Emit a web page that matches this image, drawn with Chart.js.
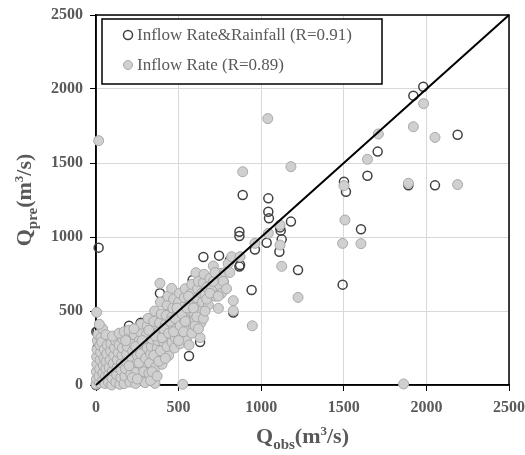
<!DOCTYPE html>
<html>
<head>
<meta charset="utf-8">
<script src="https://cdn.jsdelivr.net/npm/chart.js@4"></script>
<style>
  body { margin: 0; background: #fff; }
  canvas { display: block; }
</style>
</head>
<body>
<canvas id="chartA" width="525" height="455"></canvas>
<script>
// values, [Qobs, Qpre] in m3/s
var rainfallLabel = 'Inflow Rate&Rainfall (R=0.91)';
var inflowLabel = 'Inflow Rate (R=0.89)';
var axisTicks = [0, 500, 1000, 1500, 2000, 2500];
var diagonal = [[0, 0], [2500, 2500]];

var rainfallPts = [
  [0,0],[10,40],[20,100],[30,180],[50,60],[80,150],[100,40],[120,200],[150,120],[180,250],
  [200,80],[220,300],[250,180],[280,320],[300,100],[330,380],[360,260],[400,450],[420,300],
  [450,520],[480,380],[520,600],[550,450],[600,620],[640,660],
  [2,360],[10,252],[10,365],[16,928],[200,400],[270,420],[300,425],[387,620],[458,608],
  [563,196],[585,709],[630,290],[646,552],[650,865],[745,874],[771,698],[811,845],[831,490],
  [868,800],[872,811],
  [868,1007],[868,1036],[888,1284],[942,642],[962,915],[1033,961],[1043,1171],[1043,1261],
  [1047,1126],[1110,900],[1114,1065],[1118,1043],[1124,984],[1180,1104],[1223,777],[1493,678],
  [1501,1374],[1513,1306],[1604,1052],[1643,1414],[1705,1577],[1891,1350],[1921,1955],
  [1981,2015],[2052,1349],[2189,1691]
];

var inflowPts = [
  [0,5],[3,40],[2,90],[5,140],[4,190],[6,240],[8,300],[12,340],[4,491],[16,1651],[20,15],[18,60],
  [22,110],[25,170],[28,220],[24,270],[30,320],[35,290],[40,30],[42,80],[45,130],[48,180],[50,240],
  [55,10],[58,60],[60,110],[62,160],[65,210],[68,270],[40,380],[20,410],[60,340],
  [75,20],[78,70],[80,120],[85,170],[88,230],[90,280],[95,0],[98,45],[100,95],[105,145],[108,200],
  [112,250],[118,300],[120,20],[125,70],[128,120],[130,170],[135,220],[140,270],[145,5],[150,50],
  [152,100],[155,150],[158,200],[160,250],[162,310],[100,330],[140,350],[170,360],
  [170,10],[175,60],[178,110],[182,160],[185,210],[190,260],[195,320],[200,370],[205,20],[210,75],
  [212,130],[218,180],[222,230],[228,280],[232,340],[240,10],[245,90],[248,150],[252,200],[258,250],
  [262,300],[268,360],[272,410],[280,40],[285,120],[288,180],[292,230],[297,16],[300,290],[305,340],
  [310,400],[315,450],[180,300],[200,130],[220,50],[230,380],[240,260],[250,40],[260,150],[270,210],
  [280,300],[290,90],[300,180],[310,250],
  [320,80],[325,150],[330,210],[335,260],[340,310],[345,370],[350,430],[355,500],[357,11],[360,120],
  [365,190],[370,250],[375,300],[380,360],[385,420],[387,687],[390,560],[395,480],[400,140],[405,220],
  [410,290],[415,350],[420,410],[425,470],[430,540],[435,600],[440,200],[445,270],[450,330],[455,390],
  [458,653],[460,460],[465,520],[320,370],[330,30],[340,90],[350,200],[360,330],[370,60],[380,160],
  [390,230],[400,320],[410,380],[420,180],[430,260],[440,350],[450,430],[460,290],
  [470,580],[475,250],[480,320],[485,380],[490,440],[495,500],[500,560],[505,620],[510,280],[515,350],
  [520,410],[525,5],[525,470],[530,530],[535,590],[540,650],[548,300],[555,380],[560,440],[563,270],
  [565,500],[570,560],[575,620],[580,680],[590,400],[595,470],[599,444],[600,530],[605,759],[610,590],
  [615,650],[620,700],[630,320],[635,420],[640,500],[645,560],[650,691],[654,748],[470,360],[480,450],
  [490,520],[500,300],[510,400],[520,480],[530,360],[540,430],[550,520],[560,600],[580,350],[590,520],
  [600,400],[610,460],[620,380],[640,620],[650,450],
  [660,610],[670,660],[680,540],[690,720],[700,647],[710,804],[720,600],[730,700],[741,518],[747,676],
  [751,755],[760,620],[780,760],[800,820],[821,867],[831,570],[831,502],[872,867],[888,1441],[946,400],
  [660,500],[670,580],[690,620],[710,700],[720,760],[740,600],[770,700],[790,650],[810,760],
  [962,957],[1043,1025],[1040,1800],[1114,1080],[1114,946],[1124,802],[1180,1475],[1223,592],
  [1493,957],[1507,1115],[1501,1347],[1604,955],[1643,1525],[1709,1696],[1862,7],[1891,1363],
  [1921,1745],[1983,1901],[2052,1673],[2189,1354]
];

function toXY(list) {
  return list.map(function (p) { return { x: p[0], y: p[1] }; });
}

var grey = '#595959';
var tickFont = { family: 'Liberation Serif', size: 16, weight: 'bold' };

var openStyle = { fill: '#ffffff', stroke: '#404040', width: 1.5 };
var fillStyle = { fill: '#d0d0d0', stroke: '#a8a8a8', width: 1 };

// draws "Q" + subscript + "(m" + superscript 3 + "/s)"
function drawTitle(ctx, sub, cx, cy) {
  var parts = [['Q', 22, 0], [sub, 15, 6], ['(m', 22, 0], ['3', 13, -8], ['/s)', 22, 0]];
  var total = 0;
  parts.forEach(function (p) {
    ctx.font = 'bold ' + p[1] + 'px "Liberation Serif"';
    p.push(ctx.measureText(p[0]).width);
    total += p[3];
  });
  var x = cx - total / 2;
  ctx.fillStyle = grey;
  ctx.textBaseline = 'alphabetic';
  ctx.textAlign = 'left';
  parts.forEach(function (p) {
    ctx.font = 'bold ' + p[1] + 'px "Liberation Serif"';
    ctx.fillText(p[0], x, cy + p[2]);
    x += p[3];
  });
}

var extras = {
  id: 'extras',
  beforeDatasetsDraw: function (chart) {
    var ctx = chart.ctx, a = chart.chartArea;
    ctx.save();
    ctx.strokeStyle = '#000';
    ctx.lineWidth = 1.5;
    ctx.strokeRect(a.left, a.top, a.right - a.left, a.bottom - a.top);
    ctx.restore();
  },
  afterDraw: function (chart) {
    var ctx = chart.ctx, a = chart.chartArea;
    ctx.save();
    drawTitle(ctx, 'obs', (a.left + a.right) / 2, 443);
    ctx.translate(31, (a.top + a.bottom) / 2);
    ctx.rotate(-Math.PI / 2);
    drawTitle(ctx, 'pre', 0, 0);
    ctx.restore();

    // legend box
    ctx.save();
    ctx.fillStyle = '#fff';
    ctx.fillRect(102, 19, 280, 65);
    ctx.strokeStyle = '#000';
    ctx.lineWidth = 1.5;
    ctx.strokeRect(102, 19, 280, 65);
    var rows = [[rainfallLabel, openStyle, 35], [inflowLabel, fillStyle, 65]];
    ctx.font = '17px "Liberation Serif"';
    ctx.textBaseline = 'middle';
    rows.forEach(function (r) {
      ctx.beginPath();
      ctx.arc(128, r[2], 4.5, 0, Math.PI * 2);
      ctx.fillStyle = r[1].fill;
      ctx.fill();
      ctx.strokeStyle = r[1].stroke;
      ctx.lineWidth = r[1].width;
      ctx.stroke();
      ctx.fillStyle = grey;
      ctx.fillText(r[0], 137, r[2] + 1);
    });
    ctx.restore();
  }
};

function axis(fitFn) {
  return {
    type: 'linear',
    min: 0,
    max: 2500,
    afterBuildTicks: function (s) { s.ticks = axisTicks.map(function (v) { return { value: v }; }); },
    ticks: { font: tickFont, color: grey, padding: 7, callback: function (v) { return String(v); } },
    grid: { color: '#d9d9d9', tickColor: '#000', tickLength: 6, lineWidth: 1 },
    border: { color: '#000', width: 1.5 },
    afterFit: fitFn
  };
}

var ctx = document.getElementById('chartA').getContext('2d');
var chartA = new Chart(ctx, {
  type: 'scatter',
  data: {
    datasets: [
      {
        type: 'line',
        label: 'y = x',
        data: toXY(diagonal),
        borderColor: '#000',
        borderWidth: 2,
        pointRadius: 0,
        clip: false,
        order: 0
      },
      {
        label: inflowLabel,
        data: toXY(inflowPts),
        backgroundColor: fillStyle.fill,
        borderColor: fillStyle.stroke,
        borderWidth: fillStyle.width,
        pointRadius: 5,
        clip: false,
        order: 1
      },
      {
        label: rainfallLabel,
        data: toXY(rainfallPts),
        backgroundColor: 'rgba(255,255,255,0)',
        borderColor: openStyle.stroke,
        borderWidth: openStyle.width,
        pointRadius: 4.5,
        clip: false,
        order: 2
      }
    ]
  },
  options: {
    responsive: false,
    animation: false,
    devicePixelRatio: 1,
    layout: { padding: { top: 15, right: 16, left: 0, bottom: 0 } },
    plugins: { legend: { display: false }, tooltip: { enabled: false } },
    scales: {
      x: axis(function (s) { s.height = 70; s.paddingLeft = 0; s.paddingRight = 0; }),
      y: axis(function (s) { s.width = 96; s.paddingTop = 0; s.paddingBottom = 0; })
    }
  },
  plugins: [extras]
});
</script>
</body>
</html>
